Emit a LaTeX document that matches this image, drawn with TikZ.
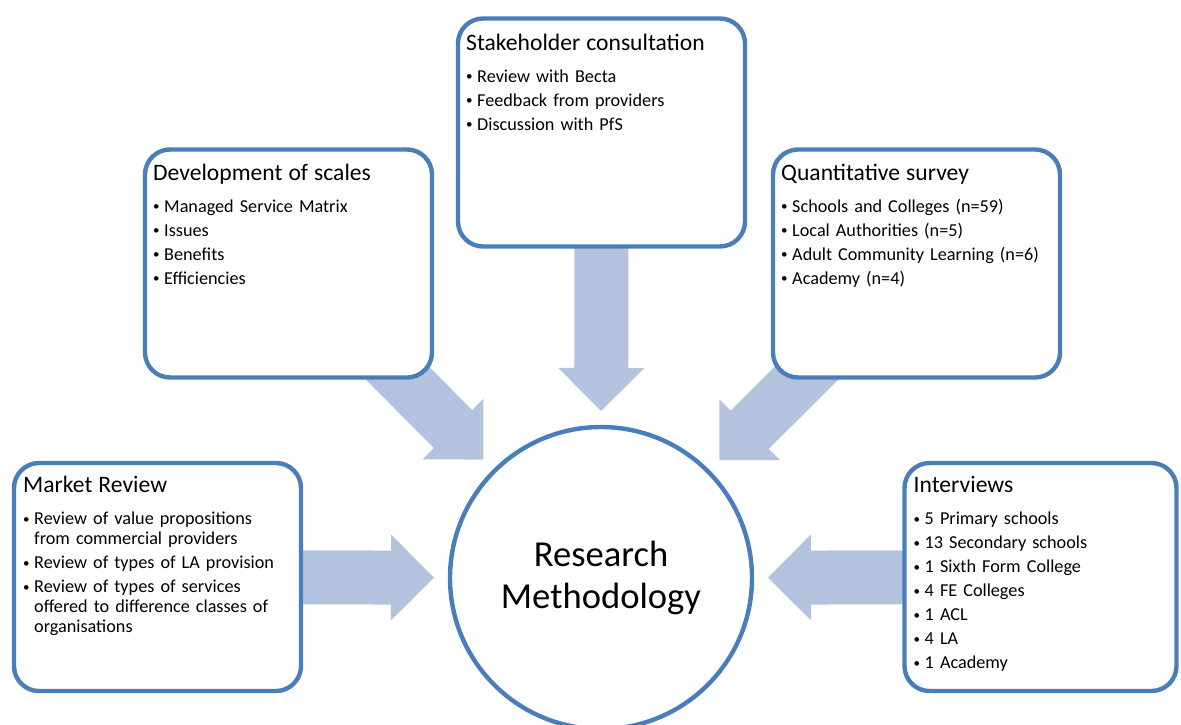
\documentclass[tikz,border=0pt]{standalone}
\usepackage{fontspec}
\setmainfont{Carlito}
\usetikzlibrary{calc, backgrounds}
\definecolor{boxblue}{HTML}{4A7EBB}
\definecolor{arrowblue}{HTML}{B3C3DE}

% title and bullet lines of a box
\newcommand{\ttl}[1]{{\fontsize{11.8}{13}\selectfont #1\par}\vspace{4pt}}
\newcommand{\itm}[1]{\vspace{2pt}\noindent\hangindent=5.5pt\hangafter=1\makebox[5.5pt][l]{\raisebox{0.2ex}{\fontsize{6.5}{6.5}\selectfont\textbullet}}#1\par}

% wide arrow from a box towards the hub
\newcommand{\bigarrow}[2]{%
\coordinate (#1-tip) at ($(#2.center)!83.5pt!(#1.center)$);
\coordinate (#1-head) at ($(#1-tip)!21.5pt!(#1.center)$);
\fill[arrowblue] ($(#1.center)!13.5pt!90:(#1-tip)$) -- ($(#1-head)!13.5pt!90:(#1-tip)$) -- ($(#1-head)!21.5pt!90:(#1-tip)$) -- (#1-tip) -- ($(#1-head)!21.5pt!-90:(#1-tip)$) -- ($(#1-head)!13.5pt!-90:(#1-tip)$) -- ($(#1.center)!13.5pt!-90:(#1-tip)$) -- cycle;}

\begin{document}
\begin{tikzpicture}[x=0.5pt, y=-0.5pt,
 box/.style={draw=boxblue, line width=2.2pt, fill=white, rounded corners=12.5pt, minimum width=143.5pt, minimum height=114pt},
 boxtext/.style={anchor=base west, inner sep=0pt, text width=138pt, align=left, font=\fontsize{9.1}{10}\selectfont},
 hub/.style={circle, draw=boxblue, line width=2.2pt, fill=white, minimum size=151pt, align=center, font=\fontsize{18.3}{21}\selectfont}]

\useasboundingbox (0,0) rectangle (1181,724);

\node[box] (mr) at (157.5,577) {};
\node[box] (dev) at (288.5,263.5) {};
\node[box] (sc) at (601.5,132.5) {};
\node[box] (qs) at (916.5,263.5) {};
\node[box, minimum width=136pt] (iv) at (1040.5,577) {};
\node[hub] (rm) at (601,578) {Research\\Methodology};

\node[boxtext] (mr-txt) at ([shift={(11,32)}]mr.north west) {\ttl{Market Review}
\itm{Review of value propositions\newline from commercial providers}
\itm{Review of types of LA provision}
\itm{Review of types of services\newline offered to difference classes of\newline organisations}};

\node[boxtext] (dev-txt) at ([shift={(10,33)}]dev.north west) {\ttl{Development of scales}
\itm{Managed Service Matrix}
\itm{Issues}
\itm{Benefits}
\itm{Efficiencies}};

\node[boxtext] (sc-txt) at ([shift={(10,34)}]sc.north west) {\ttl{Stakeholder consultation}
\itm{Review with Becta}
\itm{Feedback from providers}
\itm{Discussion with PfS}};

\node[boxtext] (qs-txt) at ([shift={(10,33)}]qs.north west) {\ttl{Quantitative survey}
\itm{Schools and Colleges (n=59)}
\itm{Local Authorities (n=5)}
\itm{Adult Community Learning (n=6)}
\itm{Academy (n=4)}};

\node[boxtext] (iv-txt) at ([shift={(11,32)}]iv.north west) {\ttl{Interviews}
\itm{5 Primary schools}
\itm{13 Secondary schools}
\itm{1 Sixth Form College}
\itm{4 FE Colleges}
\itm{1 ACL}
\itm{4 LA}
\itm{1 Academy}};

\begin{scope}[on background layer]
\foreach \b in {mr, dev, sc, qs, iv}
 {\bigarrow{\b}{rm}}
\end{scope}

\end{tikzpicture}
\end{document}
